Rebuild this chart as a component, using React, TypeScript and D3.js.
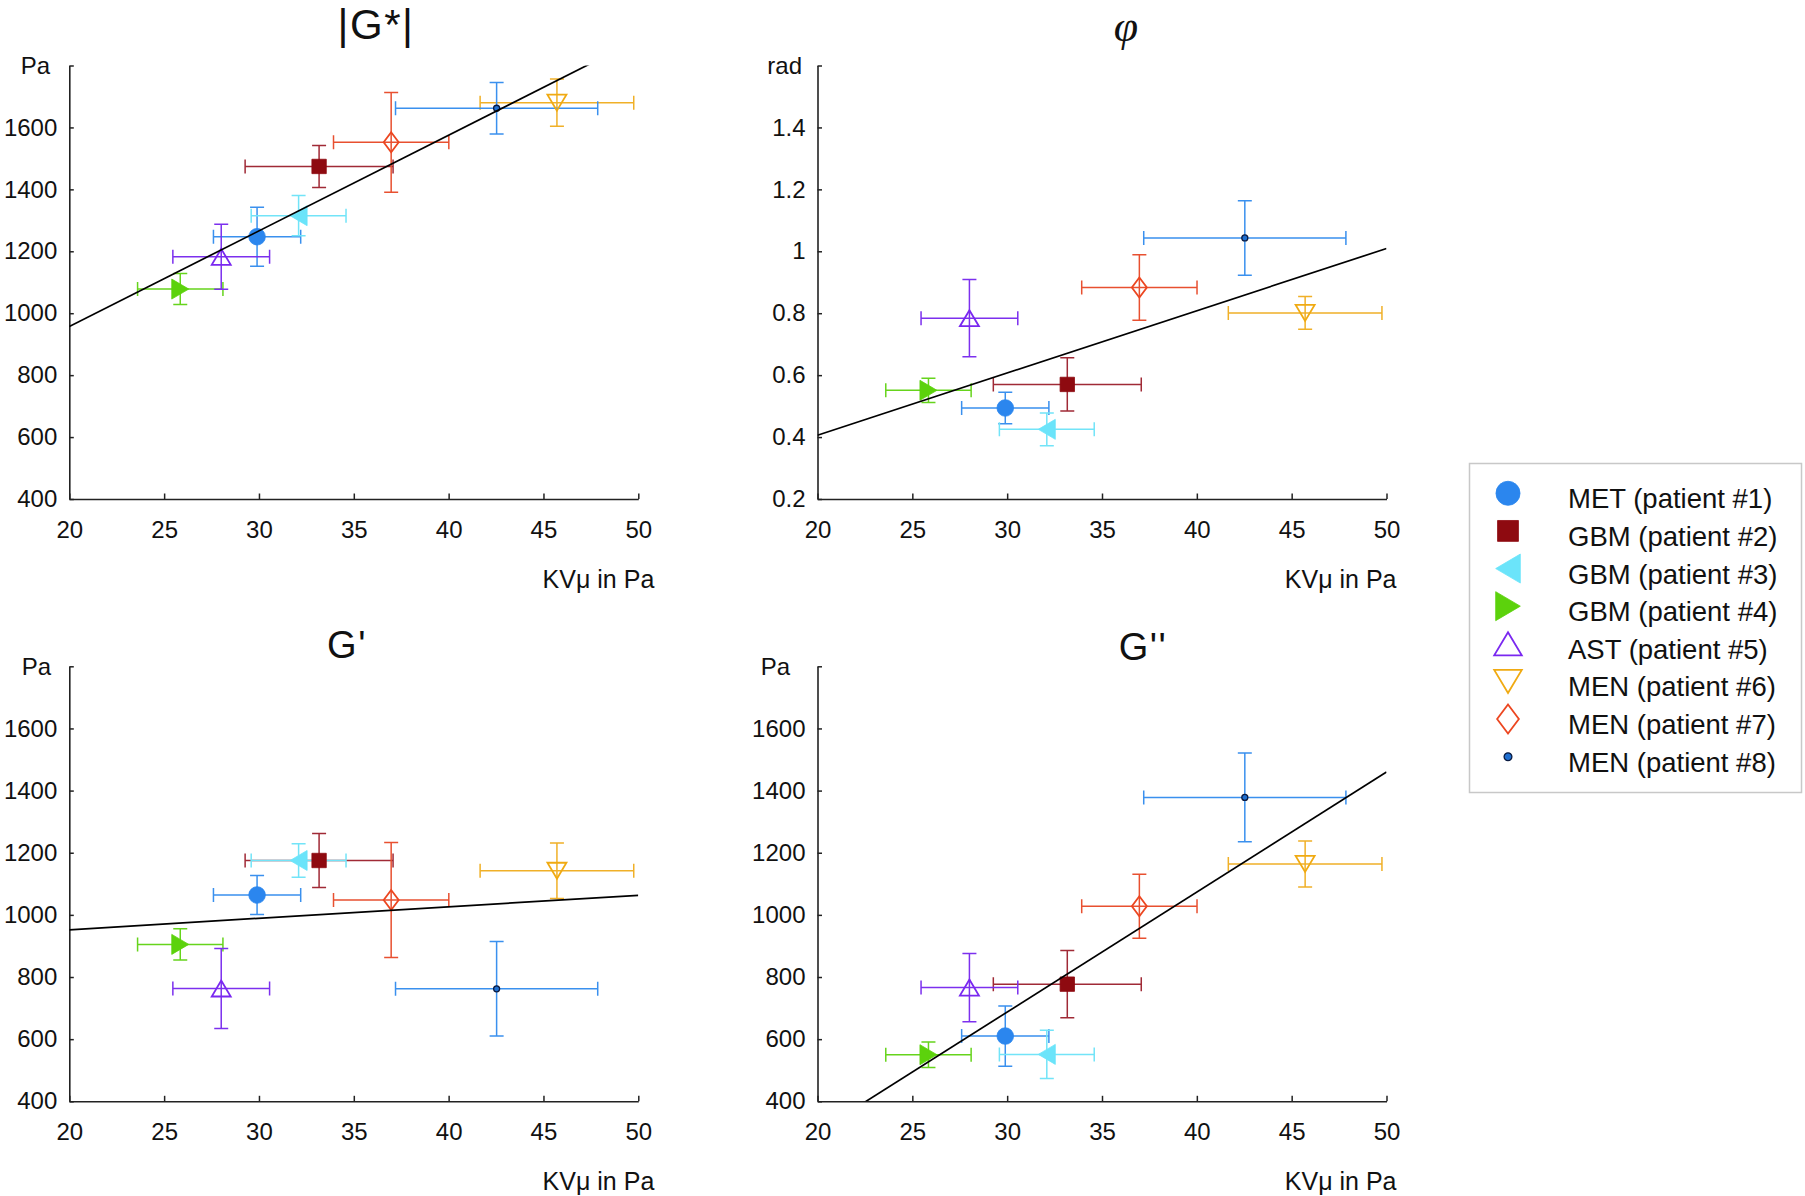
import { useEffect, useRef } from "react";
import * as d3 from "d3";

const W = 1805;
const H = 1196;

// shared x: KVμ per patient (Pa) and its spread
const KV = [29.9, 33.17, 32.09, 25.85, 28.01, 45.71, 36.97, 42.53];
const KV_ERR = [2.3, 3.9, 2.5, 2.25, 2.55, 4.05, 3.04, 5.33];

const PATIENTS = [
  "MET (patient #1)",
  "GBM (patient #2)",
  "GBM (patient #3)",
  "GBM (patient #4)",
  "AST (patient #5)",
  "MEN (patient #6)",
  "MEN (patient #7)",
  "MEN (patient #8)",
];
const SHAPES = ["circle", "square", "triLeft", "triRight", "triUp", "triDown", "diamond", "dot"];
const COLORS = ["#2b86ee", "#8e0a10", "#6be4fa", "#5cd20c", "#7a28f0", "#f0aa12", "#ec4620", "#2b86ee"];
const BAR_COLORS = ["#3a90ee", "#a02a36", "#72e4f8", "#66d41c", "#7c30ee", "#f0b028", "#e85030", "#3a90ee"];

const G_STAR = [1247, 1474, 1315, 1078, 1182, 1680, 1552, 1662];
const G_STAR_ERR = [95, 68, 65, 50, 105, 76, 161, 83];
const PHI = [0.494, 0.57, 0.425, 0.551, 0.784, 0.801, 0.883, 1.043];
const PHI_ERR = [0.051, 0.086, 0.053, 0.039, 0.125, 0.053, 0.106, 0.12];
const G_PRIME = [1064, 1175, 1175, 905, 763, 1142, 1048, 762];
const G_PRIME_ERR = [63, 87, 54, 50, 129, 89, 185, 152];
const G_DOUBLE = [610, 777, 551, 550, 766, 1164, 1028, 1378];
const G_DOUBLE_ERR = [97, 108, 78, 41, 110, 74, 103, 143];

// linear fits: [value at KVμ = 20, slope]
const FIT_G_STAR = [957, 30.9];
const FIT_PHI = [0.406, 0.0201];
const FIT_G_PRIME = [952, 3.7];
const FIT_G_DOUBLE = [301, 38.63];

const X_TICKS = [20, 25, 30, 35, 40, 45, 50];
const PA_TICKS = [400, 600, 800, 1000, 1200, 1400, 1600, 1800];
const RAD_TICKS = [0.2, 0.4, 0.6, 0.8, 1, 1.2, 1.4, 1.6];

const FONT = "'Liberation Sans', Arial, Helvetica, sans-serif";

type Panel = {
  title: string;
  titleSize: number;
  titleX: number;
  titleY: number;
  italic?: boolean;
  unit: string;
  unitX: number;
  xLabelGap: number;
  ticks: number[];
  values: number[];
  errs: number[];
  fit: number[];
  left: number;
  top: number;
};

const PLOT_W = 569;
const PLOT_H_TOP = 433.5;
const PLOT_H_BOT = 435;

const PANELS: Panel[] = [
  { title: "|G*|", titleSize: 42, titleX: 376, titleY: 39, unit: "Pa", unitX: 50, xLabelGap: 16, ticks: PA_TICKS, values: G_STAR, errs: G_STAR_ERR, fit: FIT_G_STAR, left: 69.3, top: 65.5 },
  { title: "φ", titleSize: 44, titleX: 1126, titleY: 41, italic: true, unit: "rad", unitX: 802, xLabelGap: 10, ticks: RAD_TICKS, values: PHI, errs: PHI_ERR, fit: FIT_PHI, left: 817.5, top: 65.5 },
  { title: "G'", titleSize: 38, titleX: 347, titleY: 658, unit: "Pa", unitX: 51, xLabelGap: 16, ticks: PA_TICKS, values: G_PRIME, errs: G_PRIME_ERR, fit: FIT_G_PRIME, left: 69.3, top: 666.3 },
  { title: "G''", titleSize: 38, titleX: 1143, titleY: 660, unit: "Pa", unitX: 790, xLabelGap: 10, ticks: PA_TICKS, values: G_DOUBLE, errs: G_DOUBLE_ERR, fit: FIT_G_DOUBLE, left: 817.5, top: 666.3 },
];

function markerPath(shape: string, k: number): string {
  const p = d3.path();
  if (shape === "circle" || shape === "dot") {
    const r = (shape === "circle" ? 8.3 : 3) * k;
    p.arc(0, 0, r, 0, Math.PI * 2);
  } else if (shape === "square") {
    const h = 7.2 * k;
    p.rect(-h, -h, 2 * h, 2 * h);
  } else if (shape === "triLeft" || shape === "triRight") {
    const w = 17 * k, h = 20 * k, s = shape === "triLeft" ? 1 : -1;
    p.moveTo((-s * w) / 2, 0);
    p.lineTo((s * w) / 2, -h / 2);
    p.lineTo((s * w) / 2, h / 2);
    p.closePath();
  } else if (shape === "triUp" || shape === "triDown") {
    const w = 19 * k, h = 16 * k, s = shape === "triUp" ? 1 : -1;
    p.moveTo(0, (-s * h) / 2);
    p.lineTo(w / 2, (s * h) / 2);
    p.lineTo(-w / 2, (s * h) / 2);
    p.closePath();
  } else if (shape === "diamond") {
    const w = 15 * k, h = 20 * k;
    p.moveTo(0, -h / 2);
    p.lineTo(w / 2, 0);
    p.lineTo(0, h / 2);
    p.lineTo(-w / 2, 0);
    p.closePath();
  }
  return p.toString();
}

const HOLLOW = new Set(["triUp", "triDown", "diamond"]);

function drawMarker(g: d3.Selection<SVGGElement, unknown, null, undefined>, i: number, x: number, y: number, k: number) {
  const shape = SHAPES[i];
  const hollow = HOLLOW.has(shape);
  g.append("path")
    .attr("transform", `translate(${x},${y})`)
    .attr("d", markerPath(shape, k))
    .attr("fill", hollow ? "none" : shape === "dot" ? "#1f6fd0" : COLORS[i])
    .attr("stroke", shape === "dot" ? "#0a1a40" : COLORS[i])
    .attr("stroke-width", hollow ? 1.8 : shape === "dot" ? 1.3 : 0.8);
}

export default function App() {
  const svgRef = useRef<SVGSVGElement>(null);

  useEffect(() => {
    document.body.style.margin = "0";
    document.body.style.overflow = "hidden";
    if (!svgRef.current) return;
    const root = d3.select(svgRef.current);
    root.selectAll("*").remove();

    root.append("rect").attr("width", W).attr("height", H).attr("fill", "white");

    PANELS.forEach((pn, pi) => {
      const plotH = pi < 2 ? PLOT_H_TOP : PLOT_H_BOT;
      const x = d3.scaleLinear().domain([20, 50]).range([pn.left, pn.left + PLOT_W]);
      const yMin = pn.ticks[0];
      const yMax = pn.ticks[pn.ticks.length - 1];
      const y = d3.scaleLinear().domain([yMin, yMax]).range([pn.top + plotH, pn.top]);

      const g = root.append("g");

      const clipId = `clip-${pi}`;
      g.append("clipPath")
        .attr("id", clipId)
        .append("rect")
        .attr("x", pn.left)
        .attr("y", pn.top)
        .attr("width", PLOT_W)
        .attr("height", plotH);

      // axes
      g.append("g")
        .attr("transform", `translate(0,${pn.top + plotH})`)
        .call(
          d3.axisBottom(x).tickValues(X_TICKS).tickSizeInner(-5.5).tickSizeOuter(0).tickPadding(22).tickFormat((d) => String(d))
        )
        .call((a) => a.select(".domain").attr("stroke", "#222").attr("stroke-width", 1.6))
        .call((a) => a.selectAll("line").attr("stroke", "#222").attr("stroke-width", 1.5))
        .call((a) => a.selectAll("text").attr("font-family", FONT).attr("font-size", 24).attr("fill", "#111"));

      g.append("g")
        .attr("transform", `translate(${pn.left},0)`)
        .call(
          d3
            .axisLeft(y)
            .tickValues(pn.ticks)
            .tickSizeInner(-4.5)
            .tickSizeOuter(0)
            .tickPadding(12)
            .tickFormat((d) => (d === yMax ? "" : String(d)))
        )
        .call((a) => a.select(".domain").attr("stroke", "#222").attr("stroke-width", 1.6))
        .call((a) => a.selectAll("line").attr("stroke", "#222").attr("stroke-width", 1.5))
        .call((a) => a.selectAll("text").attr("font-family", FONT).attr("font-size", 24).attr("fill", "#111"));

      // labels
      g.append("text")
        .attr("x", pn.titleX)
        .attr("y", pn.titleY)
        .attr("text-anchor", "middle")
        .attr("font-family", pn.italic ? "'Liberation Serif', 'DejaVu Serif', serif" : FONT)
        .attr("font-style", pn.italic ? "italic" : "normal")
        .attr("font-size", pn.titleSize)
        .attr("letter-spacing", pn.italic ? 0 : 1.5)
        .attr("fill", "#111")
        .text(pn.title);

      g.append("text")
        .attr("x", pn.unitX)
        .attr("y", pn.top + 8.5)
        .attr("text-anchor", "end")
        .attr("font-family", FONT)
        .attr("font-size", 24)
        .attr("fill", "#111")
        .text(pn.unit);

      g.append("text")
        .attr("x", pn.left + PLOT_W + pn.xLabelGap)
        .attr("y", pn.top + plotH + 89)
        .attr("text-anchor", "end")
        .attr("font-family", FONT)
        .attr("font-size", 25)
        .attr("fill", "#111")
        .text("KVμ in Pa");

      // error bars
      const bars = g.append("g").attr("fill", "none").attr("stroke-width", 1.5);
      KV.forEach((kv, i) => {
        const c = BAR_COLORS[i];
        const px = x(kv);
        const py = y(pn.values[i]);
        const x1 = x(kv - KV_ERR[i]);
        const x2 = x(kv + KV_ERR[i]);
        const y1 = y(pn.values[i] - pn.errs[i]);
        const y2 = y(pn.values[i] + pn.errs[i]);
        const cap = 7;
        const path = d3.path();
        path.moveTo(x1, py);
        path.lineTo(x2, py);
        path.moveTo(x1, py - cap);
        path.lineTo(x1, py + cap);
        path.moveTo(x2, py - cap);
        path.lineTo(x2, py + cap);
        path.moveTo(px, y1);
        path.lineTo(px, y2);
        path.moveTo(px - cap, y1);
        path.lineTo(px + cap, y1);
        path.moveTo(px - cap, y2);
        path.lineTo(px + cap, y2);
        bars.append("path").attr("d", path.toString()).attr("stroke", c);
      });

      // markers
      const marks = g.append("g");
      KV.forEach((kv, i) => drawMarker(marks, i, x(kv), y(pn.values[i]), 1));

      // fit line
      const [a0, b] = pn.fit;
      const fitX = [20, 50];
      g.append("path")
        .attr("clip-path", `url(#${clipId})`)
        .attr(
          "d",
          d3
            .line<number>()
            .x((d) => x(d))
            .y((d) => y(a0 + b * (d - 20)))(fitX)
        )
        .attr("fill", "none")
        .attr("stroke", "#000")
        .attr("stroke-width", 1.7);
    });

    // legend
    const lg = root.append("g");
    lg.append("rect")
      .attr("x", 1469.5)
      .attr("y", 463.5)
      .attr("width", 332)
      .attr("height", 329)
      .attr("fill", "white")
      .attr("stroke", "#c8c8c8")
      .attr("stroke-width", 1.5);
    const row = d3.scaleLinear().domain([0, PATIENTS.length - 1]).range([508.3, 771.7]);
    PATIENTS.forEach((name, i) => {
      drawMarker(lg, i, 1508, row(i) - 15, i === 7 ? 1.3 : 1.45);
      lg.append("text")
        .attr("x", 1568)
        .attr("y", row(i))
        .attr("font-family", FONT)
        .attr("font-size", 27.5)
        .attr("fill", "#111")
        .text(name);
    });
  }, []);

  return <svg ref={svgRef} width={W} height={H} viewBox={`0 0 ${W} ${H}`} style={{ display: "block" }} />;
}
